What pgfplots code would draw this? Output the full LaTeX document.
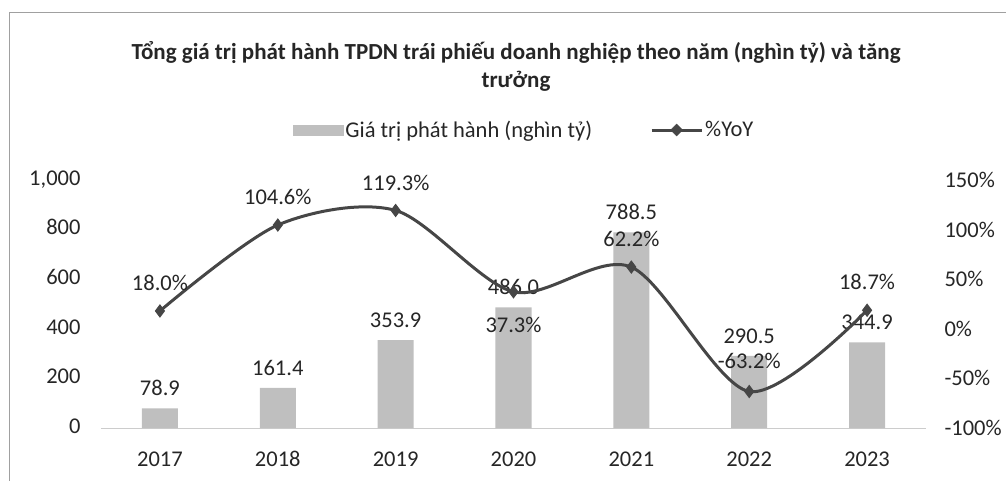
\documentclass[border=0pt]{standalone}
\usepackage{fontspec}
\setmainfont{Carlito}
\usepackage{pgfplots}
\usepackage{pgfplotstable}
\pgfplotsset{compat=1.18}
\definecolor{barGrey}{RGB}{191,191,191}
\definecolor{lineGrey}{RGB}{70,70,70}
\definecolor{txtGrey}{RGB}{38,38,38}
\definecolor{frameGrey}{RGB}{160,160,160}

% x, YoY growth, label offset (pt)
\pgfplotstableread{
x  yoy    dy
0  18.0   21
1  104.6  21
2  119.3  21
3  37.3   -40
4  62.2   21
5  -63.2  24
6  18.7   21
}\yoydata

\begin{document}
\begin{tikzpicture}[font=\fontsize{22.5}{26}\selectfont, text=txtGrey]
% page = 1006 x 480, plot area 825 x 248 at (0,0)
\path[use as bounding box] (-101pt,-52pt) rectangle (905pt,428pt);
\draw[frameGrey, line width=1pt] (-91pt,-60pt) -- (-91pt,415pt) -- (910pt,415pt);

\begin{axis}[
  name=main,
  scale only axis, width=825pt, height=248pt,
  xmin=-0.5, xmax=6.5, ymin=0, ymax=1000,
  xtick={0,1,2,3,4,5,6},
  xticklabels={2017,2018,2019,2020,2021,2022,2023},
  ytick={0,200,400,600,800,1000},
  /pgf/number format/assume math mode=true,
  /pgf/number format/1000 sep={,},
  axis x line*=bottom, axis y line*=left,
  x axis line style={draw=gray!40, line width=1pt, -},
  y axis line style={draw=none},
  major tick length=0pt,
  typeset ticklabels with strut,
  xticklabel style={yshift=-17pt},
  yticklabel style={xshift=-17pt},
  ybar, bar width=36pt,
  nodes near coords,
  nodes near coords style={/pgf/number format/fixed, /pgf/number format/fixed zerofill,
    /pgf/number format/precision=1, yshift=9pt, text=txtGrey},
]
\addplot[fill=barGrey, draw=none] coordinates {
  (0,78.9) (1,161.4) (2,353.9) (3,486.0) (4,788.5) (5,290.5) (6,344.9)};
\end{axis}

\begin{axis}[
  scale only axis, width=825pt, height=248pt,
  xmin=-0.5, xmax=6.5, ymin=-100, ymax=150,
  axis y line*=right, axis x line=none,
  y axis line style={draw=none},
  major tick length=0pt,
  ytick={-100,-50,0,50,100,150},
  yticklabel={\pgfmathprintnumber{\tick}\%},
  yticklabel style={xshift=15pt},
  /pgf/number format/assume math mode=true,
  legend style={draw=none, fill=none, at={(0.513,1.2016)}, anchor=center,
    legend columns=2, font=\fontsize{22.5}{26}\selectfont,
    /tikz/every even column/.append style={column sep=56pt}},
]
\addlegendimage{legend image code/.code={\fill[barGrey] (0pt,-5pt) rectangle (50pt,5pt);}}
\addlegendentry{Giá trị phát hành (nghìn tỷ)}
\addlegendimage{legend image code/.code={
  \draw[lineGrey, line width=3pt] (0pt,0pt) -- (50pt,0pt);
  \fill[lineGrey] (25pt,6pt) -- (31pt,0pt) -- (25pt,-6pt) -- (19pt,0pt) -- cycle;}}
\addlegendentry{\%YoY}
\addplot[smooth, lineGrey, line width=3pt, mark=diamond*,
  mark options={line width=1pt, fill=lineGrey, scale=1}, mark size=6pt,
  visualization depends on={\thisrow{dy} \as \labdy},
  nodes near coords={\pgfmathprintnumber[fixed,fixed zerofill,precision=1]{\pgfplotspointmeta}\%},
  nodes near coords style={text=txtGrey, anchor=center, yshift=\labdy pt + 7pt},
  forget plot] table[x=x, y=yoy] {\yoydata};
\end{axis}

\node[font=\bfseries\fontsize{23}{28}\selectfont, align=center, text=black!85]
  at (415pt,362pt) {Tổng giá trị phát hành TPDN trái phiếu doanh nghiệp theo năm (nghìn tỷ) và tăng\\trưởng};
\end{tikzpicture}
\end{document}
